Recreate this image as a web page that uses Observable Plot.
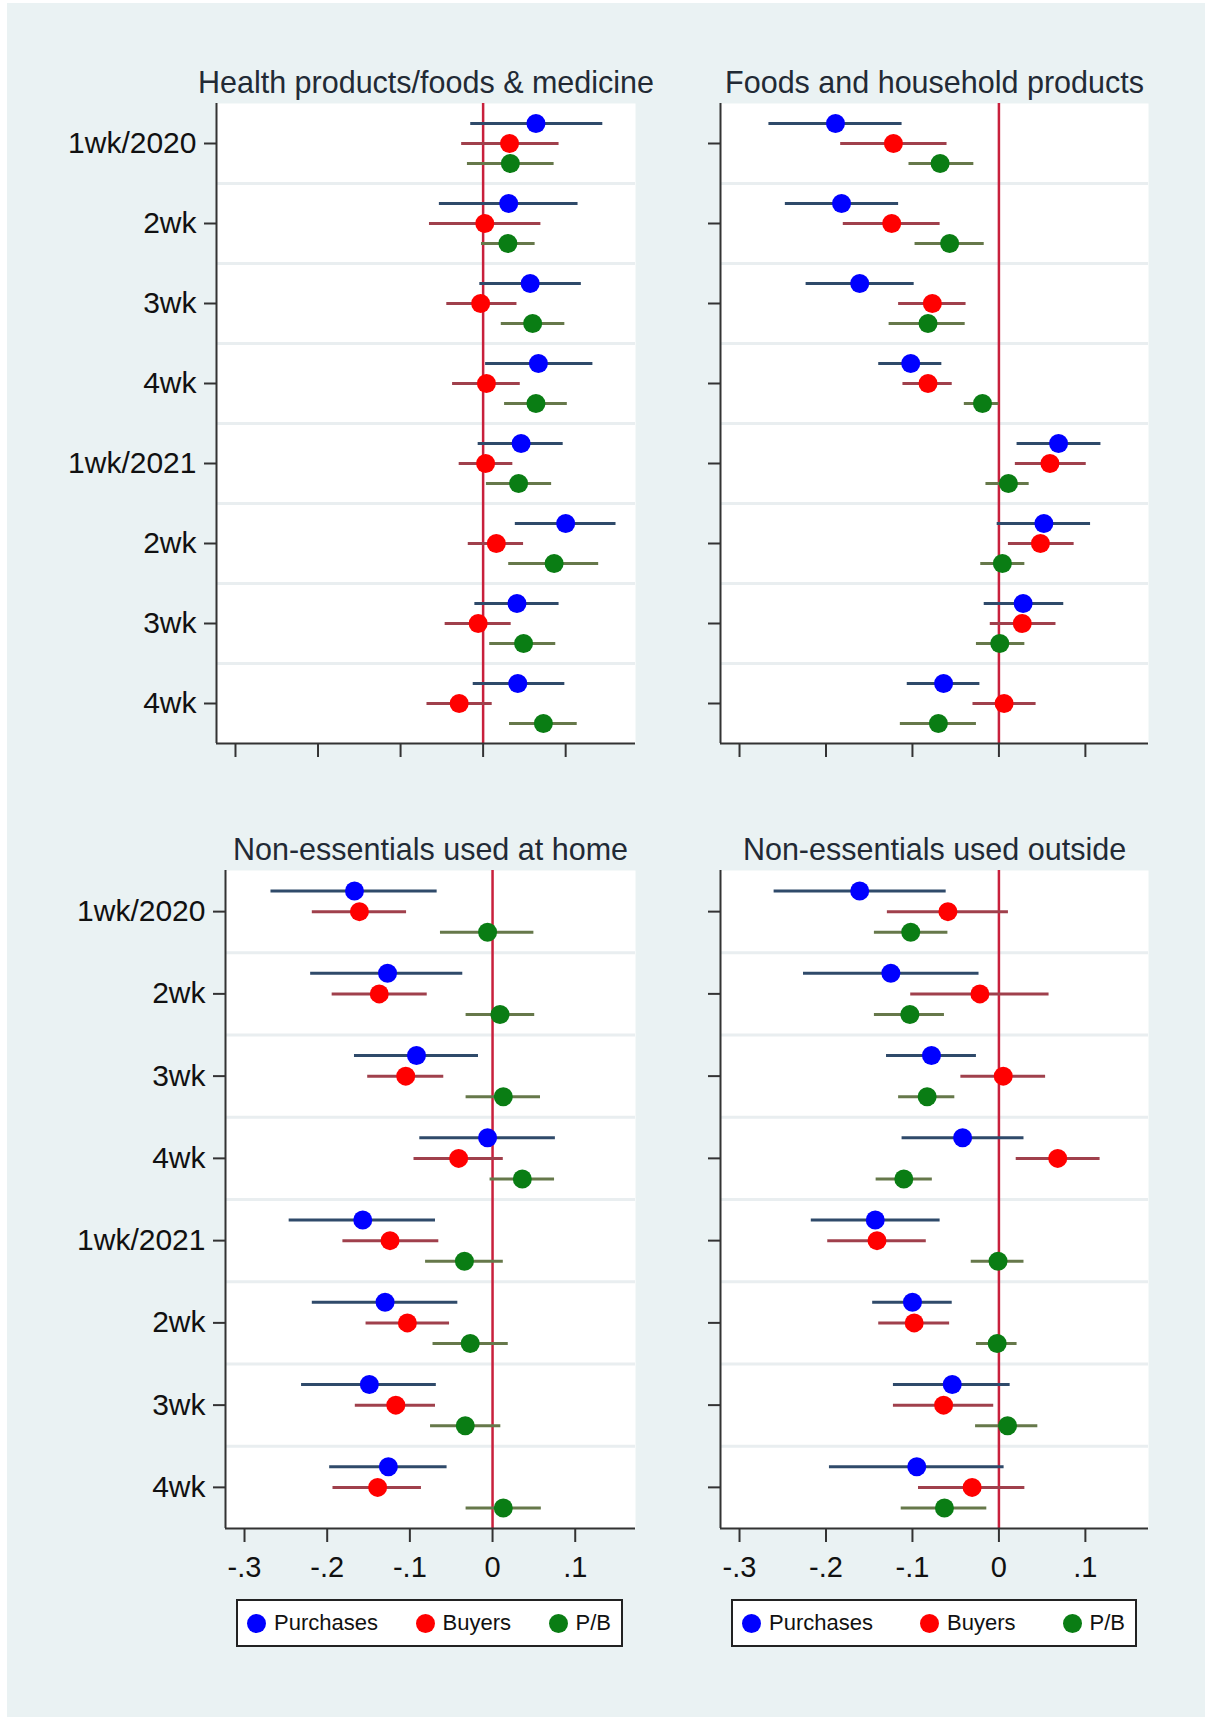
<!DOCTYPE html>
<html><head><meta charset="utf-8">
<script src="https://cdn.jsdelivr.net/npm/d3@7"></script>
<script src="https://cdn.jsdelivr.net/npm/@observablehq/plot@0.6"></script>
<style>
body{margin:0;background:#fff;}
#wrap{position:relative;width:1213px;height:1724px;font-family:"Liberation Sans",Arial,sans-serif;overflow:hidden;}
#bg{position:absolute;left:7px;top:3px;width:1198px;height:1714px;background:#eaf2f3;}
.panel{position:absolute;}
.panel svg{overflow:visible;}
.legend{position:absolute;background:#fff;border:2px solid #222;box-sizing:border-box;display:flex;justify-content:space-between;align-items:center;padding:0 10px 0 9px;font-size:22px;color:#111;}
.item{display:flex;align-items:center;gap:8px;}
.sw{width:19px;height:19px;border-radius:50%;}
</style></head><body>
<div id="wrap"><div id="bg"></div></div>
<script>
// ---- data ----
const weeks = ["1wk/2020","2wk","3wk","4wk","1wk/2021","2wk","3wk","4wk"];
const series = ["Purchases","Buyers","P/B"];
const dotColors = ["#0000ff","#ff0000","#0a7d14"];
const barColors = ["#2f4a6a","#a0404c","#66784a"];
const titles = ["Health products/foods & medicine","Foods and household products","Non-essentials used at home","Non-essentials used outside"];
const xTicks = [-0.3,-0.2,-0.1,0,0.1];
const xTickLabels = ["-.3","-.2","-.1","0",".1"];

// [estimate, lower, upper] per week
const healthPurchases = [[0.064,-0.015,0.145],[0.031,-0.053,0.115],[0.057,-0.004,0.119],[0.067,0.003,0.133],[0.046,-0.006,0.097],[0.100,0.039,0.161],[0.041,-0.010,0.092],[0.042,-0.012,0.099]];
const healthBuyers = [[0.032,-0.026,0.092],[0.002,-0.065,0.070],[-0.003,-0.044,0.041],[0.004,-0.037,0.045],[0.003,-0.029,0.036],[0.016,-0.018,0.049],[-0.006,-0.046,0.034],[-0.029,-0.068,0.011]];
const healthPB = [[0.033,-0.019,0.086],[0.030,-0.002,0.063],[0.060,0.022,0.099],[0.064,0.026,0.102],[0.043,0.004,0.083],[0.086,0.031,0.140],[0.049,0.008,0.088],[0.073,0.032,0.114]];

const foodsPurchases = [[-0.189,-0.266,-0.112],[-0.182,-0.247,-0.116],[-0.161,-0.223,-0.098],[-0.102,-0.139,-0.066],[0.069,0.021,0.118],[0.052,-0.002,0.106],[0.028,-0.017,0.075],[-0.064,-0.106,-0.022]];
const foodsBuyers = [[-0.122,-0.183,-0.060],[-0.124,-0.180,-0.068],[-0.077,-0.116,-0.038],[-0.082,-0.111,-0.054],[0.059,0.019,0.101],[0.048,0.011,0.087],[0.027,-0.010,0.066],[0.006,-0.030,0.043]];
const foodsPB = [[-0.068,-0.104,-0.029],[-0.057,-0.097,-0.017],[-0.082,-0.127,-0.039],[-0.019,-0.040,0.000],[0.011,-0.015,0.035],[0.004,-0.021,0.030],[0.001,-0.026,0.030],[-0.070,-0.114,-0.026]];

const homePurchases = [[-0.167,-0.268,-0.067],[-0.127,-0.220,-0.036],[-0.092,-0.167,-0.017],[-0.006,-0.088,0.076],[-0.157,-0.246,-0.069],[-0.130,-0.218,-0.042],[-0.149,-0.231,-0.068],[-0.126,-0.197,-0.055]];
const homeBuyers = [[-0.161,-0.218,-0.104],[-0.137,-0.194,-0.079],[-0.105,-0.151,-0.059],[-0.041,-0.095,0.013],[-0.124,-0.181,-0.065],[-0.103,-0.153,-0.052],[-0.117,-0.166,-0.069],[-0.139,-0.193,-0.086]];
const homePB = [[-0.006,-0.063,0.050],[0.009,-0.032,0.051],[0.013,-0.032,0.058],[0.036,-0.003,0.075],[-0.034,-0.081,0.013],[-0.027,-0.072,0.019],[-0.033,-0.075,0.010],[0.013,-0.032,0.059]];

const outsidePurchases = [[-0.161,-0.260,-0.061],[-0.125,-0.226,-0.023],[-0.078,-0.130,-0.026],[-0.042,-0.112,0.029],[-0.143,-0.217,-0.068],[-0.100,-0.146,-0.054],[-0.054,-0.122,0.013],[-0.095,-0.196,0.006]];
const outsideBuyers = [[-0.059,-0.129,0.011],[-0.022,-0.102,0.058],[0.005,-0.044,0.054],[0.068,0.020,0.117],[-0.141,-0.198,-0.084],[-0.098,-0.139,-0.057],[-0.064,-0.122,-0.006],[-0.031,-0.093,0.030]];
const outsidePB = [[-0.102,-0.144,-0.059],[-0.103,-0.144,-0.063],[-0.083,-0.116,-0.051],[-0.110,-0.142,-0.077],[-0.001,-0.032,0.029],[-0.002,-0.026,0.021],[0.010,-0.027,0.045],[-0.063,-0.113,-0.014]];

// ---- build ----
const wrap = document.getElementById("wrap");
const font = "Liberation Sans, Arial, sans-serif";
const fmtX = d => xTickLabels[xTicks.findIndex(t => Math.abs(t - d) < 1e-9)];

function rowsOf(list){
  const rows = [];
  list.forEach((arr, s) => arr.forEach(([est, lo, hi], i) => rows.push({i, s, est, lo, hi, pos: i + (s - 1) * 0.25})));
  return rows;
}

function panel(cfg){
  const rows = rowsOf(cfg.data);
  const chart = Plot.plot({
    width: cfg.width, height: cfg.height,
    marginLeft: cfg.ml, marginRight: cfg.mr, marginTop: cfg.mt, marginBottom: cfg.mb,
    style: {background: "transparent", fontFamily: font, color: "#111", overflow: "visible"},
    x: {domain: cfg.xDomain, label: null},
    y: {domain: [-0.5, 7.5], reverse: true, label: null},
    marks: [
      Plot.frame({fill: "#fff", stroke: null}),
      Plot.ruleY(d3.range(0.5, 7.5, 1), {stroke: "#e9eef0", strokeWidth: 3}),
      Plot.ruleX([0], {stroke: "#c8203c", strokeWidth: 2.5}),
      Plot.ruleY(rows, {y: "pos", x1: "lo", x2: "hi", stroke: d => barColors[d.s], strokeWidth: 3}),
      Plot.dot(rows, {y: "pos", x: "est", r: 9.5, fill: d => dotColors[d.s], stroke: null}),
      Plot.ruleX([cfg.xDomain[0]], {stroke: "#333", strokeWidth: 2}),
      Plot.ruleY([7.5], {stroke: "#333", strokeWidth: 2}),
      Plot.axisY({ticks: d3.range(8), label: null, tickSize: 12, tickPadding: 8, tickFormat: cfg.showY ? (i => weeks[i]) : (() => ""), fontSize: 30, stroke: "#333", strokeWidth: 2, fill: "#111"}),
      Plot.axisX({ticks: xTicks, label: null, tickSize: 14, tickPadding: 14, tickFormat: cfg.showX ? fmtX : (() => ""), fontSize: 29, stroke: "#333", strokeWidth: 2, fill: "#111"}),
      Plot.text([cfg.title], {frameAnchor: "top", dy: -20, fontSize: 30.5, fill: "#222a35", lineAnchor: "middle", textAnchor: "middle"})
    ]
  });
  const div = document.createElement("div");
  div.className = "panel";
  div.style.left = cfg.left + "px";
  div.style.top = cfg.top + "px";
  div.appendChild(chart);
  wrap.appendChild(div);
}

function legend(left, top, width){
  const box = document.createElement("div");
  box.className = "legend";
  Object.assign(box.style, {left: left + "px", top: top + "px", width: width + "px", height: "48px"});
  series.forEach((name, s) => {
    const it = document.createElement("div");
    it.className = "item";
    const sw = document.createElement("div");
    sw.className = "sw";
    sw.style.background = dotColors[s];
    const tx = document.createElement("span");
    tx.textContent = name;
    it.appendChild(sw); it.appendChild(tx);
    box.appendChild(it);
  });
  wrap.appendChild(box);
}

panel({title: titles[0], data: [healthPurchases, healthBuyers, healthPB], xDomain: [-0.323, 0.1846],
  left: 0, top: 40, width: 650, height: 740, ml: 216, mr: 15, mt: 63, mb: 37, showY: true, showX: false});
panel({title: titles[1], data: [foodsPurchases, foodsBuyers, foodsPB], xDomain: [-0.322, 0.173],
  left: 650, top: 40, width: 563, height: 740, ml: 70, mr: 65, mt: 63, mb: 37, showY: false, showX: false});
panel({title: titles[2], data: [homePurchases, homeBuyers, homePB], xDomain: [-0.323, 0.1729],
  left: 0, top: 800, width: 650, height: 780, ml: 225, mr: 15, mt: 70, mb: 52, showY: true, showX: true});
panel({title: titles[3], data: [outsidePurchases, outsideBuyers, outsidePB], xDomain: [-0.322, 0.173],
  left: 650, top: 800, width: 563, height: 780, ml: 70, mr: 65, mt: 70, mb: 52, showY: false, showX: true});

legend(236, 1599, 387);
legend(731, 1599, 406);
</script>
</body></html>
